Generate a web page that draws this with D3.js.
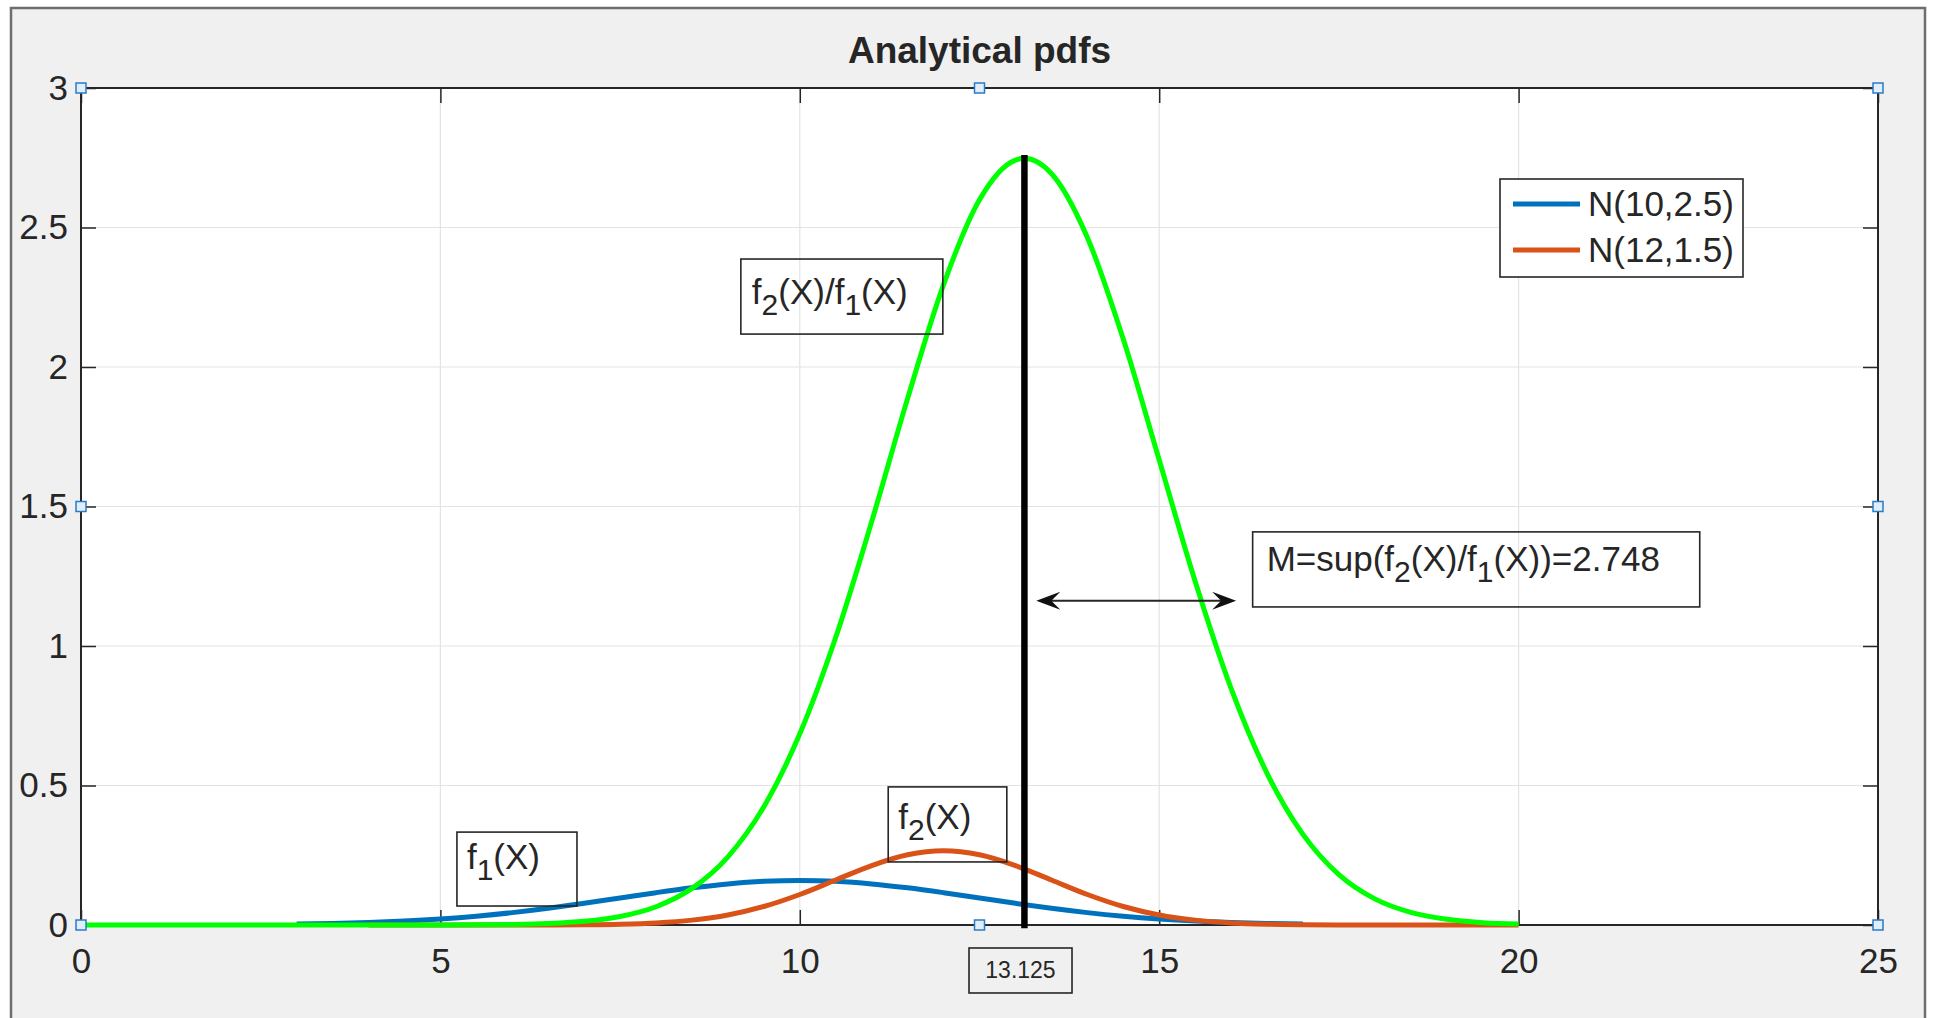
<!DOCTYPE html>
<html><head><meta charset="utf-8">
<script src="https://cdn.jsdelivr.net/npm/d3@7"></script>
<style>
body{margin:0;background:#fff;overflow:hidden}
text{font-family:"Liberation Sans",Arial,Helvetica,sans-serif;fill:#262626}
</style>
</head><body><svg id="c" width="1934" height="1018"></svg>
<script>
// ---------------- data ----------------
const chartTitle = "Analytical pdfs";
const xTicks = [0, 5, 10, 15, 20, 25];
const xTickLabels = ["0", "5", "10", "15", "20", "25"];
const yTicks = [0, 0.5, 1, 1.5, 2, 2.5, 3];
const yTickLabels = ["0", "0.5", "1", "1.5", "2", "2.5", "3"];
const seriesNames = ["N(10,2.5)", "N(12,1.5)"];

// f1(X): N(10,2.5)
const f1X = [3,3.5,4,4.5,5,5.5,6,6.5,7,7.5,8,8.5,9,9.5,10,10.5,11,11.5,12,12.5,13,13.5,14,14.5,15,15.5,16,16.5,17];
const f1Y = [0.00317,0.00543,0.00896,0.01419,0.02160,0.03158,0.04437,0.05989,0.07768,0.09679,0.11588,0.13329,0.14731,0.15642,0.15958,0.15642,0.14731,0.13329,0.11588,0.09679,0.07768,0.05989,0.04437,0.03158,0.02160,0.01419,0.00896,0.00543,0.00317];

// f2(X): N(12,1.5)
const f2X = [4,4.5,5,5.5,6,6.5,7,7.5,8,8.5,9,9.5,10,10.5,11,11.5,12,12.5,13,13.5,14,14.5,15,15.5,16,16.5,17,17.5,18,18.5,19,19.5,20];
const f2Y = [0.0000002,0.000001,0.000005,0.000022,0.000089,0.00032,0.00103,0.00295,0.00760,0.01748,0.03599,0.06632,0.10934,0.16131,0.21297,0.25159,0.26596,0.25159,0.21297,0.16131,0.10934,0.06632,0.03599,0.01748,0.00760,0.00295,0.00103,0.00032,0.000089,0.000022,0.000005,0.000001,0.0000002];

// f2(X)/f1(X)
const ratioX = [0,0.5,1,1.5,2,2.5,3,3.5,4,4.5,5,5.5,6,6.5,7,7.5,8,8.5,9,9.5,10,10.5,11,11.5,12,12.5,13,13.125,13.5,14,14.5,15,15.5,16,16.5,17,17.5,18,18.5,19,19.5,20];
const ratioY = [0,0,0,0,0.0000001,0.0000003,0.0000013,0.0000052,0.0000198,0.0000698,0.00023,0.000705,0.00201,0.00535,0.01323,0.03053,0.06552,0.13115,0.24435,0.42402,0.68518,1.03130,1.44575,1.88754,2.29521,2.59936,2.74176,2.74787,2.69345,2.46438,2.10000,1.66667,1.23198,0.84813,0.54380,0.32478,0.18060,0.09355,0.04512,0.02028,0.00849,0.00331];

const supX = 13.125;
const supM = 2.748;
const supXLabel = "13.125";
// double arrow (data units)
const arrowX = [13.29, 16.07];
const arrowY = 1.162;

// annotation text boxes (data units: x0,x1 left/right, y0 top, y1 bottom)
const annotations = [
  {text: "f_2(X)/f_1(X)", x0: 9.18, x1: 11.99, y0: 2.387, y1: 2.118, pad: 11, base: 45},
  {text: "M=sup(f_2(X)/f_1(X))=2.748", x0: 16.30, x1: 22.52, y0: 1.409, y1: 1.140, pad: 14, base: 39},
  {text: "f_1(X)", x0: 5.23, x1: 6.90, y0: 0.333, y1: 0.068, pad: 10, base: 37},
  {text: "f_2(X)", x0: 11.23, x1: 12.88, y0: 0.495, y1: 0.226, pad: 10, base: 42}
];

// ---------------- layout ----------------
const svg = d3.select("#c");
const m = {left: 81, top: 88};
const W = 1797, H = 837;
const colors = {blue: "#0072BD", orange: "#D95319", green: "#00FF00", axis: "#262626", grid: "#e3e3e3"};
const FS = 35;

// figure frame
svg.append("rect").attr("x", 11).attr("y", 8).attr("width", 1914).attr("height", 1030)
  .attr("fill", "#f0f0f0").attr("stroke", "#6e6e6e").attr("stroke-width", 2.5);

const x = d3.scaleLinear().domain([0, 25]).range([0, W]);
const y = d3.scaleLinear().domain([0, 3]).range([H, 0]);

const g = svg.append("g").attr("transform", `translate(${m.left},${m.top})`);
g.append("rect").attr("width", W).attr("height", H).attr("fill", "#fff");

// grid
g.append("g").selectAll("line").data(xTicks).join("line")
  .attr("x1", d => x(d)).attr("x2", d => x(d)).attr("y1", 0).attr("y2", H)
  .attr("stroke", colors.grid).attr("stroke-width", 1.2);
g.append("g").selectAll("line").data(yTicks).join("line")
  .attr("y1", d => y(d)).attr("y2", d => y(d)).attr("x1", 0).attr("x2", W)
  .attr("stroke", colors.grid).attr("stroke-width", 1.2);

// axes (inward ticks)
function styleAxis(sel) {
  sel.select(".domain").remove();
  sel.selectAll(".tick line").attr("stroke", colors.axis).attr("stroke-width", 1.5);
  sel.selectAll(".tick text").attr("fill", colors.axis).attr("font-size", FS)
    .attr("font-family", '"Liberation Sans",Arial,Helvetica,sans-serif');
}
g.append("g").attr("transform", `translate(0,${H})`)
  .call(d3.axisBottom(x).tickValues(xTicks).tickFormat((d, i) => xTickLabels[i]).tickSize(-15).tickPadding(23))
  .call(styleAxis);
g.append("g")
  .call(d3.axisLeft(y).tickValues(yTicks).tickFormat((d, i) => yTickLabels[i]).tickSize(-15).tickPadding(13))
  .call(styleAxis);
g.append("g")
  .call(d3.axisTop(x).tickValues(xTicks).tickFormat("").tickSize(-15))
  .call(styleAxis);
g.append("g").attr("transform", `translate(${W},0)`)
  .call(d3.axisRight(y).tickValues(yTicks).tickFormat("").tickSize(-15))
  .call(styleAxis);
g.append("rect").attr("width", W).attr("height", H).attr("fill", "none")
  .attr("stroke", colors.axis).attr("stroke-width", 2);

// data lines
const line = d3.line().x(d => x(d[0])).y(d => y(d[1])).curve(d3.curveMonotoneX);
const series = [
  {xs: f1X, ys: f1Y, color: colors.blue, w: 5},
  {xs: f2X, ys: f2Y, color: colors.orange, w: 5},
  {xs: ratioX, ys: ratioY, color: colors.green, w: 5}
];
series.forEach(s => {
  g.append("path").datum(s.xs.map((v, i) => [v, s.ys[i]]))
    .attr("d", line).attr("fill", "none").attr("stroke", s.color)
    .attr("stroke-width", s.w).attr("stroke-linejoin", "round");
});

// sup line
g.append("line").attr("x1", x(supX)).attr("x2", x(supX)).attr("y1", y(0)).attr("y2", y(supM))
  .attr("stroke", "#000").attr("stroke-width", 6.5).attr("stroke-linecap", "square");

// double-headed arrow
const ax0 = x(arrowX[0]), ax1 = x(arrowX[1]), ay = y(arrowY);
g.append("line").attr("x1", ax0 + 10).attr("x2", ax1 - 10).attr("y1", ay).attr("y2", ay)
  .attr("stroke", colors.axis).attr("stroke-width", 2);
function head(tip, dir) {
  return `M${tip},${ay} L${tip - dir * 24},${ay - 9} L${tip - dir * 15},${ay} L${tip - dir * 24},${ay + 9} Z`;
}
g.append("path").attr("d", head(ax0, -1)).attr("fill", "#111");
g.append("path").attr("d", head(ax1, 1)).attr("fill", "#111");

// rich text helper (f_2 -> subscript)
function rich(sel, str, size, subSize, shift) {
  const parts = [];
  let buf = "";
  for (let i = 0; i < str.length; i++) {
    if (str[i] === "_") { if (buf) parts.push({t: buf}); buf = ""; parts.push({t: str[i + 1], sub: true}); i++; }
    else buf += str[i];
  }
  if (buf) parts.push({t: buf});
  let prevSub = false;
  parts.forEach(p => {
    const ts = sel.append("tspan").text(p.t);
    if (p.sub) { ts.attr("font-size", subSize).attr("dy", shift); prevSub = true; }
    else { ts.attr("font-size", size); if (prevSub) ts.attr("dy", -shift); prevSub = false; }
  });
}

// annotations
annotations.forEach(a => {
  const bx = x(a.x0), by = y(a.y0), bw = x(a.x1) - x(a.x0), bh = y(a.y1) - y(a.y0);
  g.append("rect").attr("x", bx).attr("y", by).attr("width", bw).attr("height", bh)
    .attr("fill", "none").attr("stroke", colors.axis).attr("stroke-width", 1.6);
  const t = g.append("text").attr("x", bx + a.pad).attr("y", by + a.base).attr("font-size", FS);
  rich(t, a.text, FS, 30, 11);
});

// x value box below axis
{
  const bx = x(12.354), bw = x(13.787) - x(12.354), by = y(-0.0824), bh = y(-0.2437) - y(-0.0824);
  g.append("rect").attr("x", bx).attr("y", by).attr("width", bw).attr("height", bh)
    .attr("fill", "none").attr("stroke", colors.axis).attr("stroke-width", 1.6);
  g.append("text").attr("x", bx + bw / 2).attr("y", by + 30).attr("text-anchor", "middle")
    .attr("font-size", 23).text(supXLabel);
}

// legend
const lg = g.append("g").attr("transform", `translate(${W - 378},91)`);
lg.append("rect").attr("width", 243).attr("height", 98).attr("fill", "#fff")
  .attr("stroke", colors.axis).attr("stroke-width", 1.6);
[colors.blue, colors.orange].forEach((c, i) => {
  const ly = 25 + i * 46;
  lg.append("line").attr("x1", 13).attr("x2", 80).attr("y1", ly).attr("y2", ly)
    .attr("stroke", c).attr("stroke-width", 5);
  lg.append("text").attr("x", 88).attr("y", ly + 12).attr("font-size", FS).text(seriesNames[i]);
});

// selection handles
const hx = [0, W / 2, W], hy = [0, H / 2, H];
const handles = [];
hx.forEach(a => hy.forEach(b => { if (!(a === W / 2 && b === H / 2)) handles.push([a, b]); }));
g.append("g").selectAll("rect").data(handles).join("rect")
  .attr("x", d => d[0] - 5).attr("y", d => d[1] - 5).attr("width", 10).attr("height", 10)
  .attr("fill", "#dfeefa").attr("stroke", "#2a7bc4").attr("stroke-width", 1.5);

// title
svg.append("text").attr("x", m.left + W / 2).attr("y", 63).attr("text-anchor", "middle")
  .attr("font-size", 37).attr("font-weight", "bold").attr("fill", "#000").text(chartTitle);
</script>
</body></html>
